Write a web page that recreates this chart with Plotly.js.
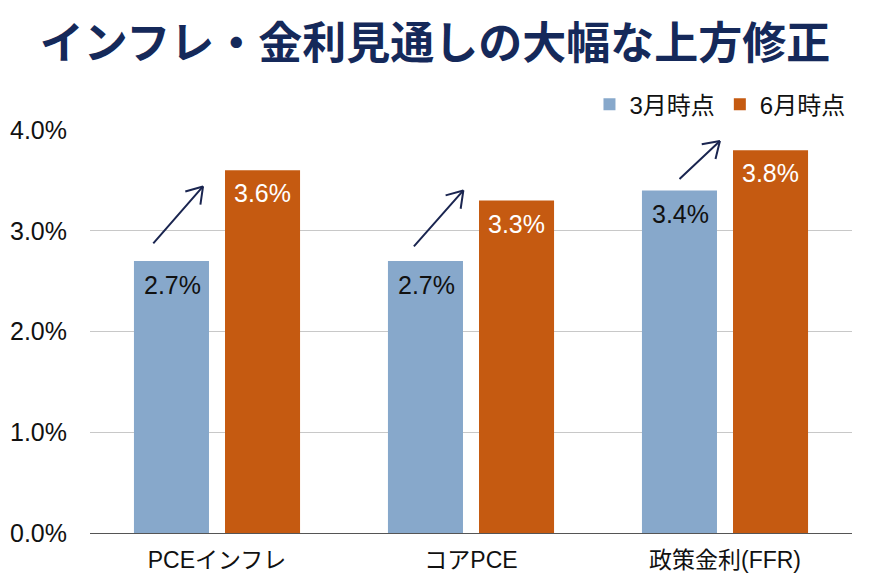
<!DOCTYPE html>
<html>
<head>
<meta charset="utf-8">
<script src="https://cdn.plot.ly/plotly-3.0.1.min.js"></script>
<style>html,body{margin:0;padding:0;background:#fff;}#chart{width:870px;height:583px;}</style>
</head>
<body>
<div id="chart"></div>
<script>
const categories = ["PCEインフレ", "コアPCE", "政策金利(FFR)"];
const marchValues = [2.7, 2.7, 3.4];
const juneValues = [3.6, 3.3, 3.8];
const seriesNames = ["3月時点", "6月時点"];
const yTicks = [0, 1, 2, 3, 4];

const FONT = "Liberation Sans, Arial, Noto Sans CJK JP, sans-serif";
const blue = "#87a8cb";
const orange = "#c55a11";
const navy = "#1a2550";

// layout geometry
const W = 870, H = 583, mL = 90, mR = 18, mT = 130, mB = 50;
const yMax = 4;
const pxPerCat = (W - mL - mR) / categories.length;
const pxPerUnit = (H - mT - mB) / yMax;

// arrow placement offsets (styling, relative to the bars)
const arrowStyle = [
  {tx: -0.256, tdy: 0.16, hx: -0.055, hdy: -0.16},
  {tx: -0.23, tdy: 0.13, hx: -0.03, hdy: 0.10},
  {tx: -0.185, tdy: 0.10, hx: -0.02, hdy: 0.09}
];

const traces = [
  {type: "bar", x: categories, y: marchValues, name: seriesNames[0], marker: {color: blue}, hoverinfo: "skip"},
  {type: "bar", x: categories, y: juneValues, name: seriesNames[1], marker: {color: orange}, hoverinfo: "skip"}
];

const annotations = [];
categories.forEach((c, i) => {
  annotations.push({x: c, y: marchValues[i], xref: "x", yref: "y", text: marchValues[i].toFixed(1) + "%",
    showarrow: false, xshift: -45, yshift: -24, yanchor: "middle", font: {family: FONT, size: 25, color: "#111"}});
  annotations.push({x: c, y: juneValues[i], xref: "x", yref: "y", text: juneValues[i].toFixed(1) + "%",
    showarrow: false, xshift: 45, yshift: -23, yanchor: "middle", font: {family: FONT, size: 25, color: "#fff"}});
  const s = arrowStyle[i];
  const hx = i + s.hx, hy = juneValues[i] + s.hdy;
  const tx = i + s.tx, ty = marchValues[i] + s.tdy;
  // shaft
  annotations.push({x: hx, y: hy, xref: "x", yref: "y", ax: tx, ay: ty, axref: "x", ayref: "y",
    text: "", showarrow: true, arrowhead: 0, arrowwidth: 2, arrowcolor: navy, standoff: 0, startstandoff: 0});
  // open chevron head
  const dxp = (tx - hx) * pxPerCat, dyp = -(ty - hy) * pxPerUnit; // screen px, y down
  const len = Math.hypot(dxp, dyp);
  const ux = dxp / len, uy = dyp / len;
  const wing = 20, ang = 33 * Math.PI / 180;
  [ang, -ang].forEach(a => {
    const wx = (ux * Math.cos(a) - uy * Math.sin(a)) * wing;
    const wy = (ux * Math.sin(a) + uy * Math.cos(a)) * wing;
    annotations.push({x: hx, y: hy, xref: "x", yref: "y", ax: wx, ay: wy,
      text: "", showarrow: true, arrowhead: 0, arrowwidth: 2, arrowcolor: navy, standoff: 0, startstandoff: 0});
  });
});

const layout = {
  width: W, height: H,
  margin: {l: mL, r: mR, t: mT, b: mB},
  paper_bgcolor: "#fff", plot_bgcolor: "#fff",
  font: {family: FONT, color: "#111"},
  title: {text: "<b>インフレ・金利見通しの大幅な上方修正</b>", x: 0.5, xanchor: "center", yref: "container", y: 0.925, yanchor: "middle",
    font: {family: "Noto Sans CJK JP, sans-serif", size: 44, color: "#15295a", weight: 900}},
  barmode: "group", bargap: 0.283, bargroupgap: 0.176,
  showlegend: true,
  legend: {orientation: "h", x: 0.998, xanchor: "right", y: 1.063, yanchor: "middle", font: {size: 24, color: "#111", family: FONT},
    traceorder: "normal", bgcolor: "rgba(0,0,0,0)", itemwidth: 30},
  xaxis: {type: "category", showgrid: false, showline: true, linecolor: "#555", linewidth: 1.2, ticks: "",
    tickfont: {size: 23, color: "#111", family: FONT}, ticklabelstandoff: 6, fixedrange: true},
  yaxis: {range: [0, yMax], tickmode: "array", tickvals: yTicks, ticktext: yTicks.map(v => v.toFixed(1) + "%"),
    showgrid: true, gridcolor: "#c8c8c8", gridwidth: 1,
    zeroline: false, showline: false, ticks: "", tickfont: {size: 25, color: "#111", family: FONT}, ticklabelstandoff: 22, fixedrange: true},
  annotations: annotations
};

Plotly.newPlot("chart", traces, layout, {displayModeBar: false, staticPlot: true});
</script>
</body>
</html>
